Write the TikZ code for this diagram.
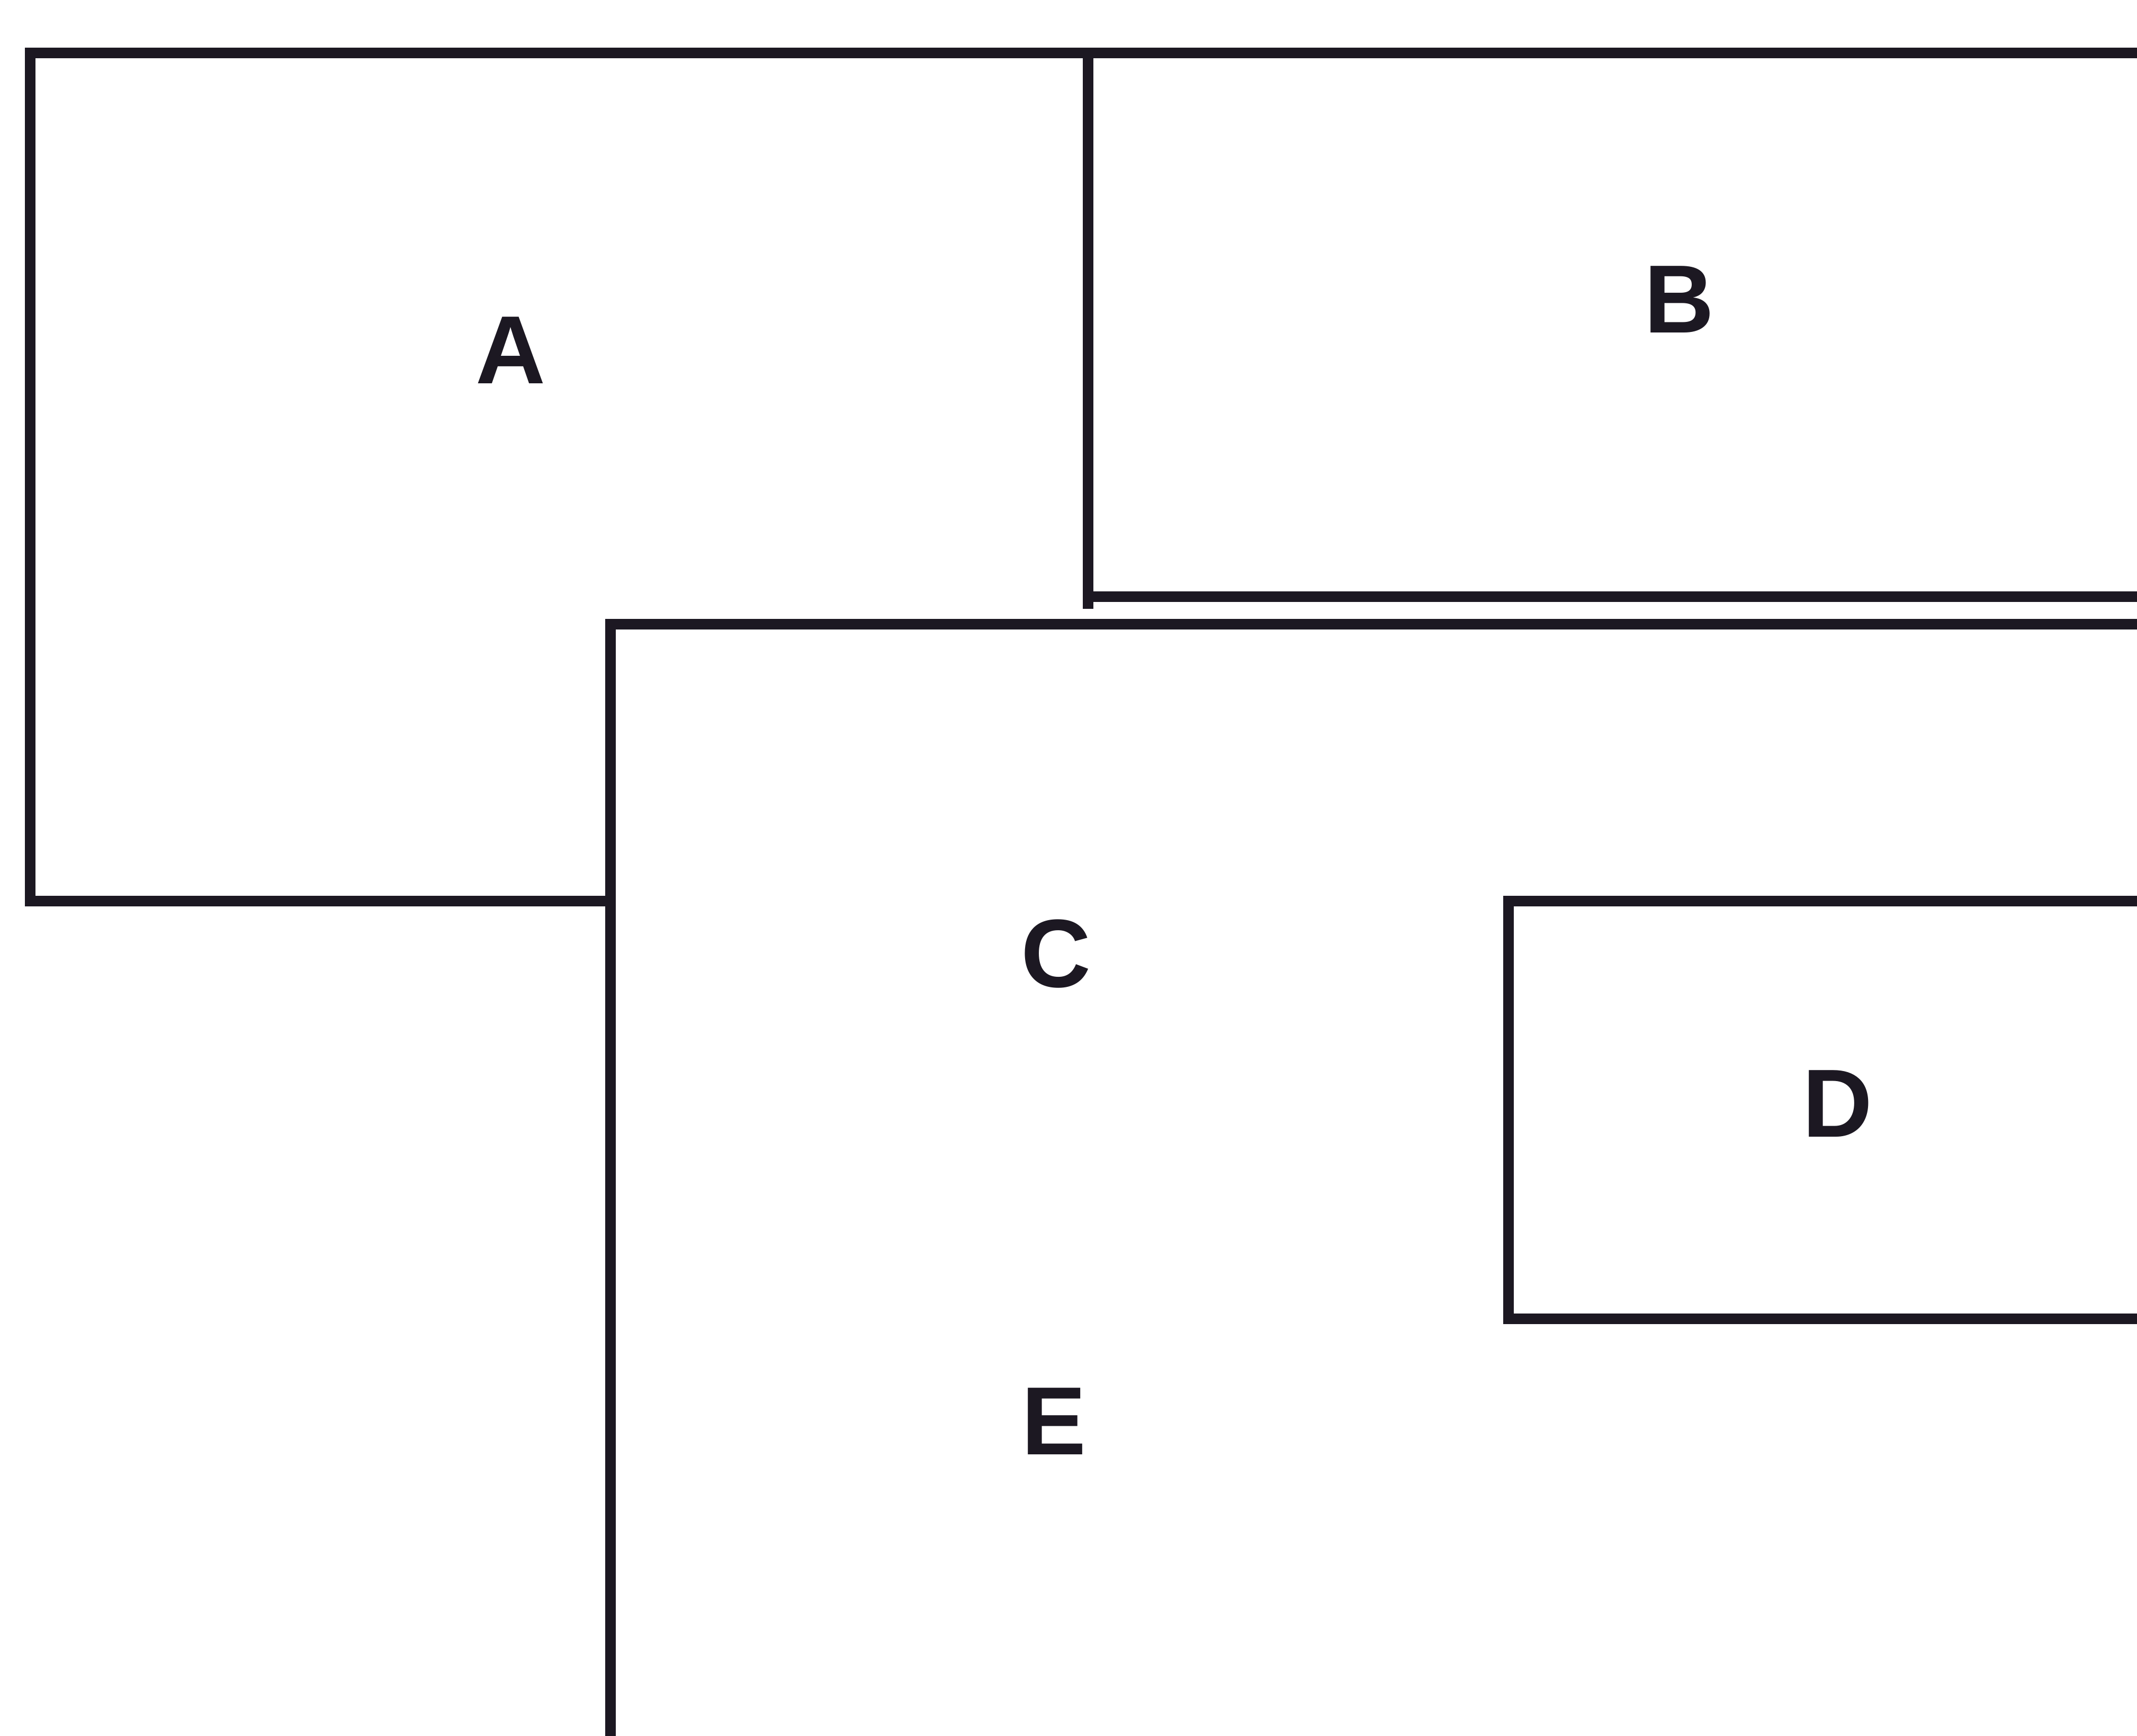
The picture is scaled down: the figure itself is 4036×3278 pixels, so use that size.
\documentclass[tikz,border=0pt]{standalone}
\usepackage{fontspec}
\setmainfont{Liberation Sans}
\definecolor{ink}{RGB}{28,24,34}
\begin{document}
\begin{tikzpicture}[x=0.01cm,y=-0.01cm,
  edge/.style={draw=ink,line width=5.5pt,line join=miter,line cap=rect},
  lab/.style={text=ink,font=\fontsize{52}{60}\selectfont\bfseries,inner sep=0pt}]
\useasboundingbox (0,0) rectangle (4036,3278);
\fill[white] (0,0) rectangle (4036,3278);
\clip (0,0) rectangle (4036,3278);
% A and top line
\draw[edge] (1153,1702) -- (57,1702) -- (57,100) -- (4100,100);
% divider between A and B
\draw[edge] (2055,100) -- (2055,1140);
% B bottom
\draw[edge] (2055,1127) -- (4100,1127);
% C
\draw[edge] (1153,3350) -- (1153,1179) -- (4100,1179);
% D
\draw[edge] (4100,1702) -- (2849,1702) -- (2849,2491) -- (4100,2491);
% labels
\node[lab] (A) at (965,662) {A};
\node[lab] (B) at (3171,566) {B};
\node[lab] (C) at (1995,1802) {C};
\node[lab] (D) at (3470,2085) {D};
\node[lab] (E) at (1990,2685) {E};
\end{tikzpicture}
\end{document}
